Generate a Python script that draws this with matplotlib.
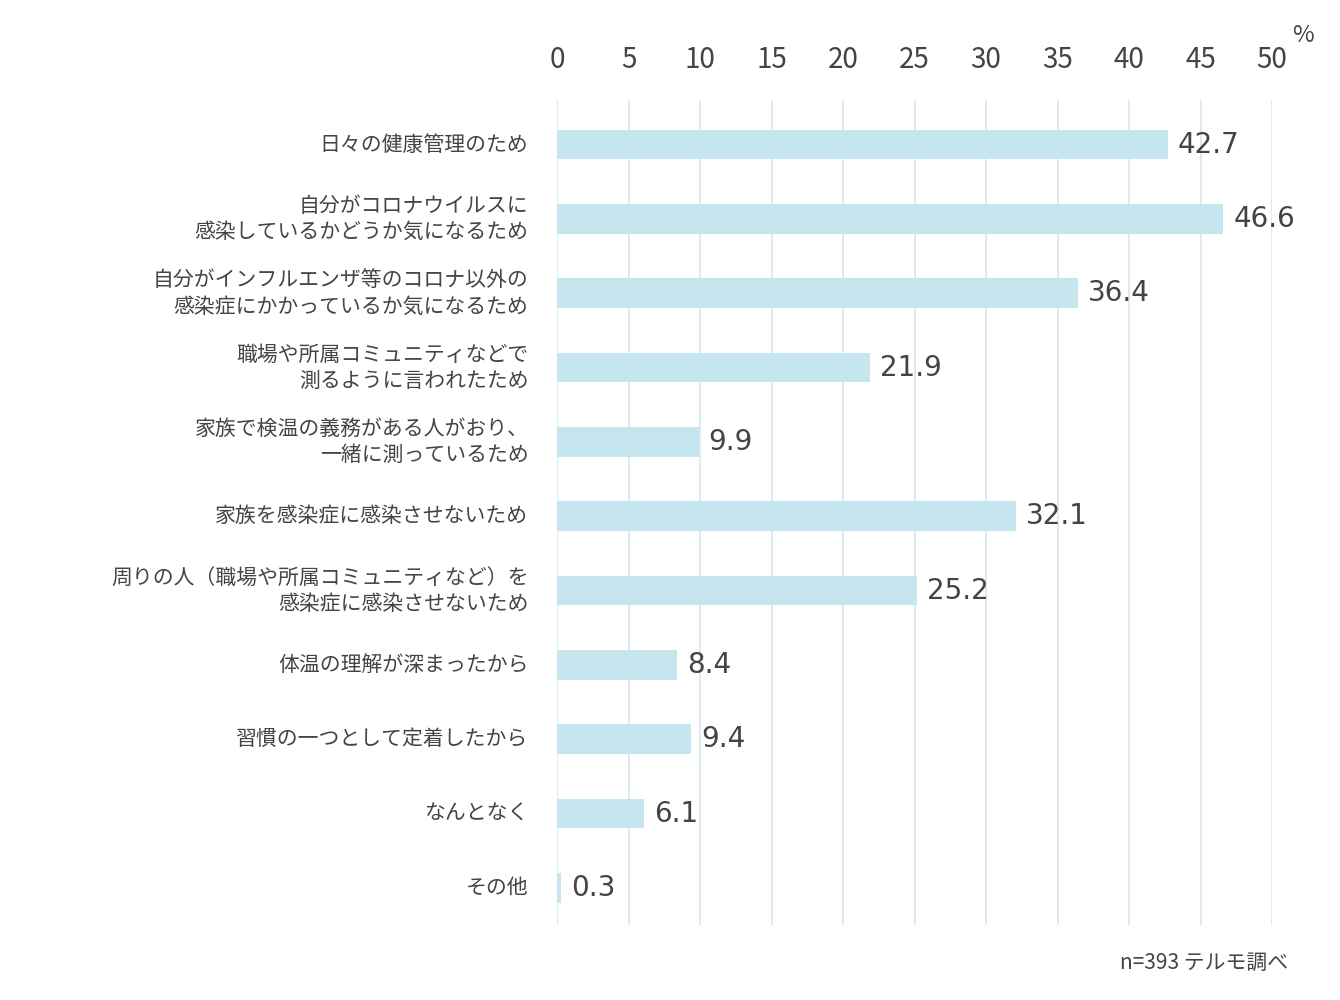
import matplotlib.pyplot as plt
import numpy as np

plt.rcParams['font.family'] = ['Noto Sans CJK JP', 'DejaVu Sans']

categories = [
    '日々の健康管理のため',
    '自分がコロナウイルスに\n感染しているかどうか気になるため',
    '自分がインフルエンザ等のコロナ以外の\n感染症にかかっているか気になるため',
    '職場や所属コミュニティなどで\n測るように言われたため',
    '家族で検温の義務がある人がおり、\n一緒に測っているため',
    '家族を感染症に感染させないため',
    '周りの人（職場や所属コミュニティなど）を\n感染症に感染させないため',
    '体温の理解が深まったから',
    '習慣の一つとして定着したから',
    'なんとなく',
    'その他',
]
values = [42.7, 46.6, 36.4, 21.9, 9.9, 32.1, 25.2, 8.4, 9.4, 6.1, 0.3]
xticks = list(range(0, 51, 5))

text_color = '#444444'
fig = plt.figure(figsize=(13.4, 10), dpi=100)
ax = fig.add_axes([557 / 1340, 0.075, (1272 - 557) / 1340, 0.825])

y = np.arange(len(categories))
ax.bar(values, height=0.4, left=0, y=y, color='#c5e5ef', zorder=2) if False else \
    ax.barh(y, values, height=0.4, color='#c5e5ef', zorder=2)

for yi, v in zip(y, values):
    ax.text(v + 0.7, yi, f'{v}', va='center', ha='left', fontsize=20,
            color=text_color, family='DejaVu Sans')
for yi, c in zip(y, categories):
    ax.text(-2.0, yi, c, va='center', ha='right', fontsize=15,
            color=text_color, linespacing=1.25)

ax.set_xlim(0, 50)
ax.set_ylim(10.5, -0.6)
ax.set_xticks(xticks)
ax.xaxis.tick_top()
ax.tick_params(axis='x', length=0, labelsize=20, labelcolor=text_color, pad=18)
ax.set_yticks([])
ax.grid(axis='x', color='#d5e8ee', linewidth=1.2, zorder=0)
for s in ax.spines.values():
    s.set_visible(False)

fig.text(1303 / 1340, 1 - 35 / 1000, '%', ha='center', va='center',
         fontsize=17, color=text_color)
fig.text(1288 / 1340, 1 - 963 / 1000, 'n=393 テルモ調べ', ha='right', va='center',
         fontsize=15, color=text_color)

fig.savefig('out.png', dpi=100)
